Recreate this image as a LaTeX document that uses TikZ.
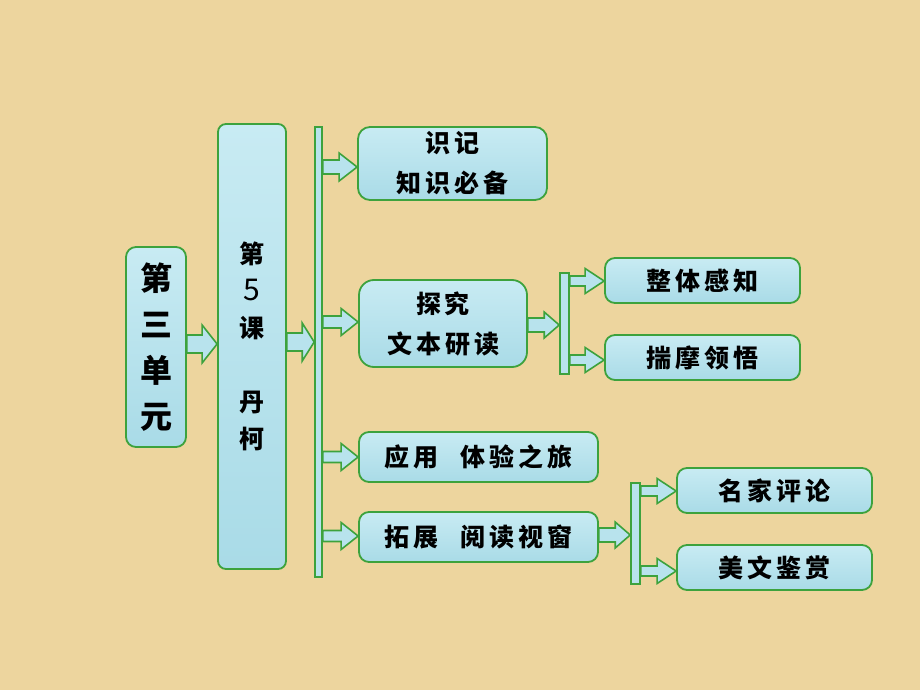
\documentclass[tikz,border=0pt]{standalone}
\usepackage{fontspec}
\newfontfamily\cjk{Noto Sans CJK SC}
\usetikzlibrary{calc,backgrounds}
\definecolor{bgtan}{HTML}{EDD59E}
\definecolor{boxtop}{HTML}{C8EBF3}
\definecolor{boxbot}{HTML}{A9DBE7}
\definecolor{boxfill}{HTML}{B8E3ED}
\definecolor{boxline}{HTML}{3DA23D}
\newcommand\gp{\hspace{4pt}}
\newcommand\barrow[5]{%
  \draw[arrowsty] let \p1=#1, \p2=#2 in
    (\x1,\y1+#3) -- (\x2-#5,\y1+#3) -- (\x2-#5,\y1+#4) -- (\x2,\y1)
    -- (\x2-#5,\y1-#4) -- (\x2-#5,\y1-#3) -- (\x1,\y1-#3) -- cycle;}
\tikzset{
  box/.style={draw=boxline, line width=1.8pt, top color=boxtop, bottom color=boxbot,
    rounded corners=#1, inner sep=0pt, align=center, text=black,
    font=\cjk\bfseries\fontsize{25}{40}\selectfont},
  box/.default=10pt,
  vbar/.style={draw=boxline, line width=1.6pt, fill=boxfill, inner sep=0pt},
  arrowsty/.style={draw=boxline, line width=1.6pt, fill=boxfill, line join=miter},
}
\begin{document}
\begin{tikzpicture}[x=1pt,y=-1pt]
\useasboundingbox (0,0) rectangle (920,690);
% boxes
\node[box, minimum width=60pt, minimum height=200pt,
      font=\cjk\bfseries\fontsize{32}{46}\selectfont] (unit) at (156,347) {第\\三\\单\\元};
\node[box=8pt, minimum width=68pt, minimum height=445pt,
      font=\cjk\bfseries\fontsize{25}{37}\selectfont] (lesson) at (252,346.5)
      {第\\{\mdseries\fontsize{30}{37}\selectfont 5}\\课\\[37pt]丹\\柯};
\node[vbar, minimum width=7pt, minimum height=450pt] (bar1) at (318.5,352) {};
\node[box=12pt, minimum width=189pt, minimum height=73pt] (s1) at (452.5,163.5)
      {识\gp 记\\知\gp 识\gp 必\gp 备};
\node[box=15pt, minimum width=168pt, minimum height=87pt] (s2) at (443,323.5)
      {探\gp 究\\文\gp 本\gp 研\gp 读};
\node[box, minimum width=239pt, minimum height=50pt] (s3) at (478.5,457)
      {应\gp 用\hspace{22pt}体\gp 验\gp 之\gp 旅};
\node[box, minimum width=239pt, minimum height=50pt] (s4) at (478.5,537)
      {拓\gp 展\hspace{22pt}阅\gp 读\gp 视\gp 窗};
\node[vbar, minimum width=9pt, minimum height=101pt] (bar2) at (564.5,323.5) {};
\node[box, minimum width=195pt, minimum height=45pt] (t1) at (702.5,280.5)
      {整\gp 体\gp 感\gp 知};
\node[box, minimum width=195pt, minimum height=45pt] (t2) at (702.5,357.5)
      {揣\gp 摩\gp 领\gp 悟};
\node[vbar, minimum width=9pt, minimum height=101pt] (bar3) at (635.5,533.5) {};
\node[box, minimum width=195pt, minimum height=45pt] (u1) at (774.5,490.5)
      {名\gp 家\gp 评\gp 论};
\node[box, minimum width=195pt, minimum height=45pt] (u2) at (774.5,567.5)
      {美\gp 文\gp 鉴\gp 赏};
\begin{scope}[on background layer]
  \fill[bgtan] (0,0) rectangle (920,690);
  \barrow{(unit.east |- 0,344)}{(lesson.west |- 0,344)}{9}{19}{15}
  \barrow{(lesson.east |- 0,342)}{(bar1.west |- 0,342)}{9}{19}{12}
  \barrow{(bar1.east |- 0,167)}{(s1.west |- 0,167)}{7}{14}{18}
  \barrow{(bar1.east |- 0,322)}{(s2.west |- 0,322)}{6}{13.5}{17}
  \barrow{(bar1.east |- 0,457)}{(s3.west |- 0,457)}{5.5}{13.5}{17}
  \barrow{(bar1.east |- 0,536)}{(s4.west |- 0,536)}{5.5}{13.5}{17}
  \barrow{(s2.east |- 0,325)}{(bar2.west |- 0,325)}{7}{13}{15}
  \barrow{(bar2.east |- 0,281)}{(t1.west |- 0,281)}{5}{12.5}{19}
  \barrow{(bar2.east |- 0,360)}{(t2.west |- 0,360)}{5}{12.5}{19}
  \barrow{(s4.east |- 0,535)}{(bar3.west |- 0,535)}{7}{13}{15}
  \barrow{(bar3.east |- 0,491)}{(u1.west |- 0,491)}{5}{12.5}{19}
  \barrow{(bar3.east |- 0,571)}{(u2.west |- 0,571)}{5}{12.5}{19}
\end{scope}
\end{tikzpicture}
\end{document}
